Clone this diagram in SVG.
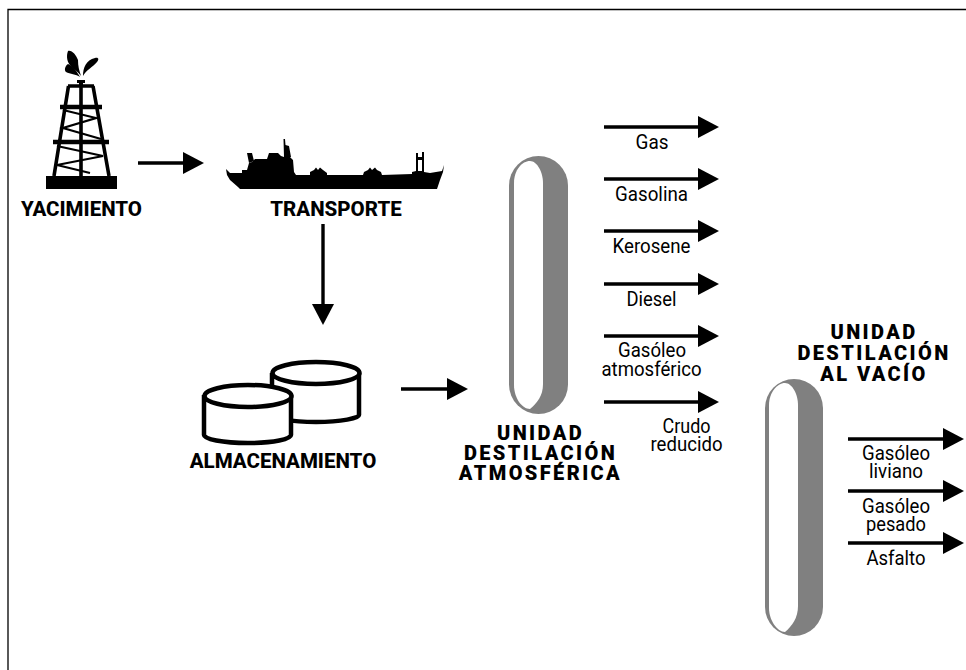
<svg xmlns="http://www.w3.org/2000/svg" width="966" height="670" viewBox="0 0 966 670">
<defs>
<marker id="ah" markerUnits="userSpaceOnUse" markerWidth="21" markerHeight="22" refX="0" refY="11" orient="auto"><path d="M0 0L21 11L0 22Z" fill="#000"/></marker>
</defs>
<style>
.c{stroke:#000;stroke-width:3.4;fill:none;marker-end:url(#ah)}
.l{font:400 21px Roboto,"Liberation Sans",sans-serif;fill:#000;text-anchor:middle}
.b{font:800 20.500px Roboto,"Liberation Sans",sans-serif;fill:#000;text-anchor:middle}
.u{font:900 20px Roboto,"Liberation Sans",sans-serif;fill:#000;text-anchor:middle;letter-spacing:2.400px}
.col{fill:#808080}
.tank{fill:#fff;stroke:#000;stroke-width:4.500}
</style>
<rect width="966" height="670" fill="#fff"/>
<path d="M8 670V9.500H966" fill="none" stroke="#000" stroke-width="1.300"/>
<g id="connectors">
<path class="c" d="M138 163H183"/>
<path class="c" d="M323 224V304" />
<path class="c" d="M401 389H447"/>
<path class="c" d="M604 127H698"/>
<path class="c" d="M604 179H698"/>
<path class="c" d="M604 231H698"/>
<path class="c" d="M604 284H698"/>
<path class="c" d="M604 336H698"/>
<path class="c" d="M604 402H698"/>
<path class="c" d="M848 439H943"/>
<path class="c" d="M848 491H943"/>
<path class="c" d="M848 543H943"/>
</g>
<g id="yacimiento">
<path d="M46 176H117V189H46Z"/>
<g fill="none" stroke="#000">
<path stroke-width="3.600" d="M68.500 86L54 176M93 86L109 176M81 82V176"/>
<path d="M68 86H94" stroke-width="3.500"/>
<path d="M60 107H102M53 142H109" stroke-width="4.500"/>
<path stroke-width="2.200" d="M63 110L96 118L63 128L101 139"/>
<path stroke-width="2.200" d="M57 146L103 156L57 165L90 173"/>
</g>
<path d="M77 80H85V83H83V85H79V83H77Z"/>
<path d="M81 76C79 70 78 66 78 60C76 55 72 50 68 51C66 56 67 63 71 66C75 70 78 72 81 76Z"/>
<path d="M80 77C77 72 74 66 68 64C65 66 64 70 66 72C70 74 76 74 80 77Z"/>
<path d="M83 76C83 68 86 60 95 58C99 57 99 60 97 62C93 67 86 70 83 76Z"/>
<text class="b" x="81.500" y="216">YACIMIENTO</text>
</g>
<g id="transporte">
<path fill-rule="evenodd" d="M226 169L230 173L242 173L242 170L247 170L249 163L252 162L255 159L267 159L269 153L278 153L281 156L284 157L290 157L293 160L294 172L296 175L310 175L310 172L314 170L316 167.500L318 170L320 167.500L323 170L327 173L327 175L363 175L364 172L368 170L370 167.500L372 170L375 167.500L377 170L381 172L382 175L412 174L412 172L416 171L416 157L424 157L424 172L430 173L442 171L444 165L443 172L440 180L437 189L240 189L238 187L230 180L227 175Z M418 160V171H422V160Z"/>
<path d="M284 157L283.500 139L285 139L285.500 145L289 146L291 157ZM249 163L247 153H252L254 161Z"/>
<path d="M416 157L416 153H418V157ZM422 157V152H424V157Z"/>
<text class="b" x="336" y="216">TRANSPORTE</text>
</g>
<g id="almacenamiento">
<path class="tank" d="M272 373V415C272 418 290 422 316 422C342 422 359 418 359 415V373"/>
<ellipse class="tank" cx="316" cy="373" rx="43.500" ry="11"/>
<path class="tank" d="M204 395V435C204 439 222 443 248 443C274 443 291 439 291 435V395"/>
<ellipse class="tank" cx="248" cy="396" rx="43.500" ry="11"/>
<text class="b" x="283" y="468">ALMACENAMIENTO</text>
</g>
<g id="unidad-atmosferica">
<rect class="col" x="509" y="156" width="59" height="258" rx="29.500"/>
<path fill="#fff" d="M514 183C514 170 522 161 530 161C537 161 543 172 543 183V384C543 396 537 403 530 409C522 409 514 398 514 385Z"/>
<text class="u" x="540.500" y="440">UNIDAD</text>
<text class="u" x="540.500" y="460">DESTILACIÓN</text>
<text class="u" x="540.500" y="480">ATMOSFÉRICA</text>
</g>
<g id="unidad-vacio">
<rect class="col" x="765" y="379" width="58" height="257" rx="29"/>
<path fill="#fff" d="M769 405C769 393 777 383 785 383C792 383 798 394 798 405V606C798 618 792 626 785 632C777 632 769 620 769 608Z"/>
<text class="u" x="874" y="339">UNIDAD</text>
<text class="u" x="874" y="360">DESTILACIÓN</text>
<text class="u" x="874" y="381">AL VACÍO</text>
</g>
<g id="labels">
<text class="l" x="652" y="149" textLength="33" lengthAdjust="spacingAndGlyphs">Gas</text>
<text class="l" x="651.500" y="200.500" textLength="73" lengthAdjust="spacingAndGlyphs">Gasolina</text>
<text class="l" x="651.500" y="253" textLength="78" lengthAdjust="spacingAndGlyphs">Kerosene</text>
<text class="l" x="651.500" y="305.500" textLength="50" lengthAdjust="spacingAndGlyphs">Diesel</text>
<text class="l" x="652" y="357" textLength="68" lengthAdjust="spacingAndGlyphs">Gasóleo</text>
<text class="l" x="651.500" y="375.500" textLength="100" lengthAdjust="spacingAndGlyphs">atmosférico</text>
<text class="l" x="686.500" y="433" textLength="48" lengthAdjust="spacingAndGlyphs">Crudo</text>
<text class="l" x="686.500" y="451" textLength="72" lengthAdjust="spacingAndGlyphs">reducido</text>
<text class="l" x="896" y="460" textLength="68" lengthAdjust="spacingAndGlyphs">Gasóleo</text>
<text class="l" x="896" y="478" textLength="54" lengthAdjust="spacingAndGlyphs">liviano</text>
<text class="l" x="896" y="513" textLength="68" lengthAdjust="spacingAndGlyphs">Gasóleo</text>
<text class="l" x="896" y="531" textLength="60" lengthAdjust="spacingAndGlyphs">pesado</text>
<text class="l" x="896" y="565" textLength="59" lengthAdjust="spacingAndGlyphs">Asfalto</text>
</g>
</svg>
